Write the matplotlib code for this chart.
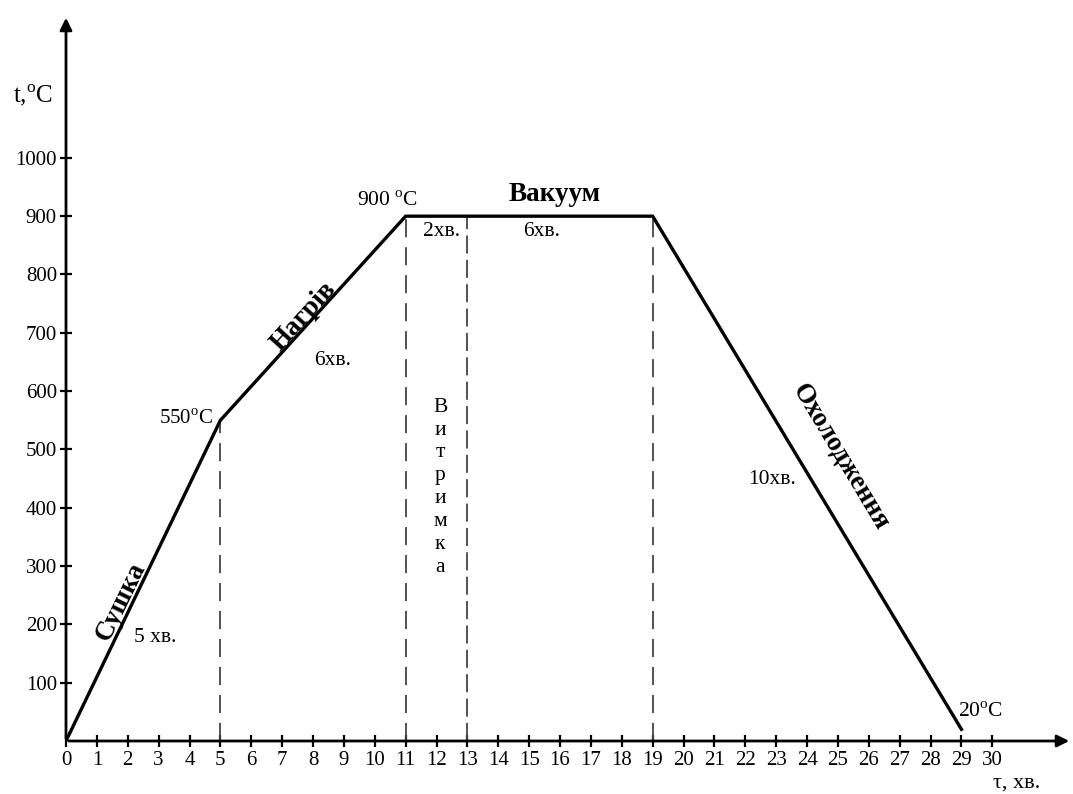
import matplotlib
matplotlib.use("Agg")
import matplotlib.pyplot as plt

plt.rcParams['font.family'] = ['Liberation Serif', 'DejaVu Serif']
plt.rcParams['mathtext.fontset'] = 'custom'
plt.rcParams['mathtext.rm'] = 'Liberation Serif'

# Data
time_pts = [0, 5, 11, 19, 29]
temp_pts = [0, 550, 900, 900, 20]
vlines_x = [5, 11, 13, 19]
vlines_top = [550, 900, 900, 900]
x_ticks = list(range(0, 31))
y_ticks = list(range(100, 1001, 100))

fig = plt.figure(figsize=(10.73, 7.94), dpi=100)
ax = fig.add_axes([66/1073, 53/794, (1072-66)/1073, (741-15)/794])
ax.set_xlim(0, 32.58)
ax.set_ylim(0, 1245)

# Main curve
ax.plot(time_pts, temp_pts, color='black', lw=2.4, solid_joinstyle='miter', zorder=3)

# Dashed verticals
for xv, top in zip(vlines_x, vlines_top):
    ls = (0, (10, 3.5)) if xv == 13 else (0, (10, 5.5))
    ax.plot([xv, xv], [0, top], color='#444444', lw=1.3, linestyle=ls, zorder=2)

# Axes with arrows
for s in ax.spines.values():
    s.set_visible(False)
ax.annotate('', xy=(1.0, 0), xytext=(0, 0), xycoords='axes fraction',
            arrowprops=dict(arrowstyle='-|>', color='black', lw=2.0, mutation_scale=18), annotation_clip=False)
ax.annotate('', xy=(0, 1.0), xytext=(0, 0), xycoords='axes fraction',
            arrowprops=dict(arrowstyle='-|>', color='black', lw=2.0, mutation_scale=18), annotation_clip=False)

ax.set_xticks(x_ticks)
ax.set_xticklabels([str(v) for v in x_ticks])
ax.set_yticks(y_ticks)
ax.set_yticklabels([str(v) for v in y_ticks])
ax.tick_params(axis='both', direction='inout', length=9, width=1.6, colors='black',
               labelsize=15, pad=3)
ax.tick_params(axis='y', pad=2)

# Axis labels
ax.text(-1.07, 1108, r't,$^{\rm o}$C', fontsize=18, ha='center', va='center', clip_on=False)
ax.text(30.8, -72, 'τ, хв.', fontsize=16, ha='center', va='center', clip_on=False)

# Annotations
ax.text(10.4, 925, r'900 $^{\rm o}$C', fontsize=15.5, ha='center', va='center')
ax.text(15.84, 937, 'Вакуум', fontsize=19.5, fontweight='bold', ha='center', va='center')
ax.text(12.15, 873, '2хв.', fontsize=15.5, ha='center', va='center')
ax.text(15.4, 873, '6хв.', fontsize=15.5, ha='center', va='center')

ax.annotate('Нагрів', xy=(7.9, 550 + 2.9 * 350 / 6), xytext=(-1.2, 1.0),
            textcoords='offset points', fontsize=19.5, fontweight='bold', rotation=47.8,
            ha='center', va='baseline', rotation_mode='anchor')
ax.text(8.62, 653, '6хв.', fontsize=15.5, ha='center', va='center')
ax.text(3.89, 552, r'550$^{\rm o}$C', fontsize=15, ha='center', va='center')
ax.text(12.12, 435, '\n'.join('Витримка'), fontsize=15.5, ha='center', va='center',
        linespacing=1.28)
ax.text(22.87, 448, '10хв.', fontsize=15.5, ha='center', va='center')
ax.text(25.07, 487, 'Охолодження', fontsize=19.5, fontweight='bold', rotation=-59,
        ha='center', va='center', rotation_mode='anchor')
ax.annotate('Сушка', xy=(2.1, 2.1 * 110), xytext=(-3.0, 1.5),
            textcoords='offset points', fontsize=19.5, fontweight='bold', rotation=64,
            ha='center', va='baseline', rotation_mode='anchor')
ax.text(2.88, 178, '5 хв.', fontsize=15.5, ha='center', va='center')
ax.text(29.6, 50, r'20$^{\rm o}$C', fontsize=15.5, ha='center', va='center')

fig.savefig('out.png', dpi=100)
